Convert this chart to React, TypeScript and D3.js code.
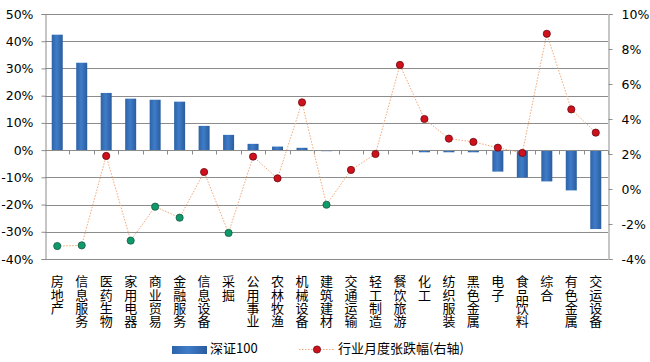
import * as d3 from "d3";
import React, { useRef, useEffect } from "react";

// categories (Shenwan industries)
const industries = [
  "房地产", "信息服务", "医药生物", "家用电器", "商业贸易", "金融服务", "信息设备", "采掘",
  "公用事业", "农林牧渔", "机械设备", "建筑建材", "交通运输", "轻工制造", "餐饮旅游", "化工",
  "纺织服装", "黑色金属", "电子", "食品饮料", "综合", "有色金属", "交运设备",
];
// 深证100 weight change, left axis (%)
const sz100 = [
  42.4, 32.1, 21.0, 18.9, 18.5, 17.8, 8.9, 5.6,
  2.3, 1.3, 0.85, -0.4, 0, 0, 0, -0.8,
  -0.8, -0.8, -7.9, -10.1, -11.5, -14.8, -29.0,
];
// monthly industry change, right axis (%)
const monthChg = [
  -3.26, -3.22, 1.89, -2.95, -1.01, -1.64, 0.97, -2.51,
  1.85, 0.61, 4.95, -0.9, 1.09, 2.0, 7.09, 4.0,
  2.88, 2.69, 2.36, 2.06, 8.87, 4.55, 3.22,
];
const leftTicks = [50, 40, 30, 20, 10, 0, -10, -20, -30, -40];
const rightTicks = [10, 8, 6, 4, 2, 0, -2, -4];

const numFont = "'DejaVu Sans', sans-serif";
const cjkFont = "'Noto Sans CJK SC', sans-serif";

export default function App() {
  const svgRef = useRef<SVGSVGElement>(null);
  const w = 650;
  const h = 362;
  const left = 45, right = 608, top = 14, bottom = 259;

  useEffect(() => {
    const svg = d3.select(svgRef.current);
    svg.selectAll("*").remove();

    const x = d3.scaleBand().domain(industries).range([left, right]);
    const yL = d3.scaleLinear().domain([-40, 50]).range([bottom, top]);
    const yR = d3.scaleLinear().domain([-4, 10]).range([bottom, top]);

    const defs = svg.append("defs");
    const grad = defs.append("linearGradient").attr("id", "barGrad")
      .attr("x1", 0).attr("y1", 0).attr("x2", 1).attr("y2", 0);
    grad.append("stop").attr("offset", "0%").attr("stop-color", "#2d63a8");
    grad.append("stop").attr("offset", "45%").attr("stop-color", "#3f7cc8");
    grad.append("stop").attr("offset", "100%").attr("stop-color", "#2a5c9e");

    // gridlines
    svg.append("g").selectAll("line")
      .data(leftTicks)
      .enter()
      .append("line")
      .attr("x1", left).attr("x2", right)
      .attr("y1", d => Math.round(yL(d)) + 0.5).attr("y2", d => Math.round(yL(d)) + 0.5)
      .attr("stroke", "#8c8c8c").attr("stroke-width", 1);

    // bars
    const bw = 11;
    svg.append("g").selectAll("rect")
      .data(sz100)
      .enter()
      .append("rect")
      .attr("x", (d, i) => x(industries[i])! + x.bandwidth() / 2 - bw / 2)
      .attr("y", d => yL(Math.max(0, d)))
      .attr("width", bw)
      .attr("height", d => Math.abs(yL(d) - yL(0)))
      .attr("fill", "url(#barGrad)");

    // left axis
    const yAxisL = d3.axisLeft(yL).tickValues(leftTicks).tickSize(4).tickFormat(d => d + "%");
    const gL = svg.append("g").attr("transform", `translate(${left + 0.5},0)`).call(yAxisL);
    gL.select(".domain").attr("stroke", "#8c8c8c");
    gL.selectAll(".tick line").attr("stroke", "#8c8c8c");
    gL.selectAll(".tick text").attr("font-family", numFont).attr("font-size", 12.5).attr("fill", "#000").attr("x", -12);

    // right axis
    const yAxisR = d3.axisRight(yR).tickValues(rightTicks).tickSize(4).tickFormat(d => d + "%");
    const gR = svg.append("g").attr("transform", `translate(${right + 0.5},0)`).call(yAxisR);
    gR.select(".domain").attr("stroke", "#8c8c8c");
    gR.selectAll(".tick line").attr("stroke", "#8c8c8c");
    gR.selectAll(".tick text").attr("font-family", numFont).attr("font-size", 12.5).attr("fill", "#000").attr("x", 13);

    // zero axis with ticks between categories
    const zy = Math.round(yL(0)) + 0.5;
    svg.append("line").attr("x1", left).attr("x2", right).attr("y1", zy).attr("y2", zy).attr("stroke", "#8c8c8c");
    svg.append("g").selectAll("line")
      .data(industries)
      .enter()
      .append("line")
      .attr("x1", d => Math.round(x(d)! + x.bandwidth()) + 0.5)
      .attr("x2", d => Math.round(x(d)! + x.bandwidth()) + 0.5)
      .attr("y1", zy).attr("y2", zy + 4)
      .attr("stroke", "#8c8c8c");

    // line on right axis
    const line = d3.line<number>()
      .x((d, i) => x(industries[i])! + x.bandwidth() / 2)
      .y(d => yR(d));
    svg.append("path")
      .datum(monthChg)
      .attr("d", line)
      .attr("fill", "none")
      .attr("stroke", "#f0a878")
      .attr("stroke-width", 1)
      .attr("stroke-dasharray", "1.5,1.5");

    svg.append("g").selectAll("circle")
      .data(monthChg)
      .enter()
      .append("circle")
      .attr("cx", (d, i) => x(industries[i])! + x.bandwidth() / 2)
      .attr("cy", d => yR(d))
      .attr("r", 3.6)
      .attr("fill", d => d < 0 ? "#0f9a6c" : "#d0101c")
      .attr("stroke", d => d < 0 ? "#1a5a40" : "#6a0a10")
      .attr("stroke-width", 0.8);

    // x labels, vertical (one glyph per line)
    svg.append("g").selectAll("text")
      .data(industries)
      .enter()
      .append("text")
      .attr("x", d => x(d)! + x.bandwidth() / 2)
      .attr("y", 275)
      .attr("font-family", cjkFont).attr("font-size", 13)
      .attr("fill", "#000")
      .style("writing-mode", "vertical-rl")
      .style("text-orientation", "upright")
      .style("letter-spacing", "0.3px")
      .text(d => d);

    // legend
    const lg = svg.append("g");
    lg.append("rect").attr("x", 172).attr("y", 346).attr("width", 35).attr("height", 8).attr("fill", "url(#barGrad)");
    lg.append("text").attr("x", 210).attr("y", 353).attr("font-family", cjkFont).attr("font-size", 13).text("深证100");
    lg.append("line").attr("x1", 299).attr("x2", 334).attr("y1", 349.5).attr("y2", 349.5)
      .attr("stroke", "#f0a878").attr("stroke-dasharray", "1.5,1.5");
    lg.append("circle").attr("cx", 317).attr("cy", 349.5).attr("r", 3.6)
      .attr("fill", "#d0101c").attr("stroke", "#6a0a10").attr("stroke-width", 0.8);
    lg.append("text").attr("x", 338).attr("y", 353).attr("font-family", cjkFont).attr("font-size", 13).text("行业月度张跌幅(右轴)");
  });

  return (
    <svg
      ref={svgRef}
      width={w}
      height={h}
      style={{ position: "absolute", left: 0, top: 0, background: "#fff" }}
    />
  );
}
